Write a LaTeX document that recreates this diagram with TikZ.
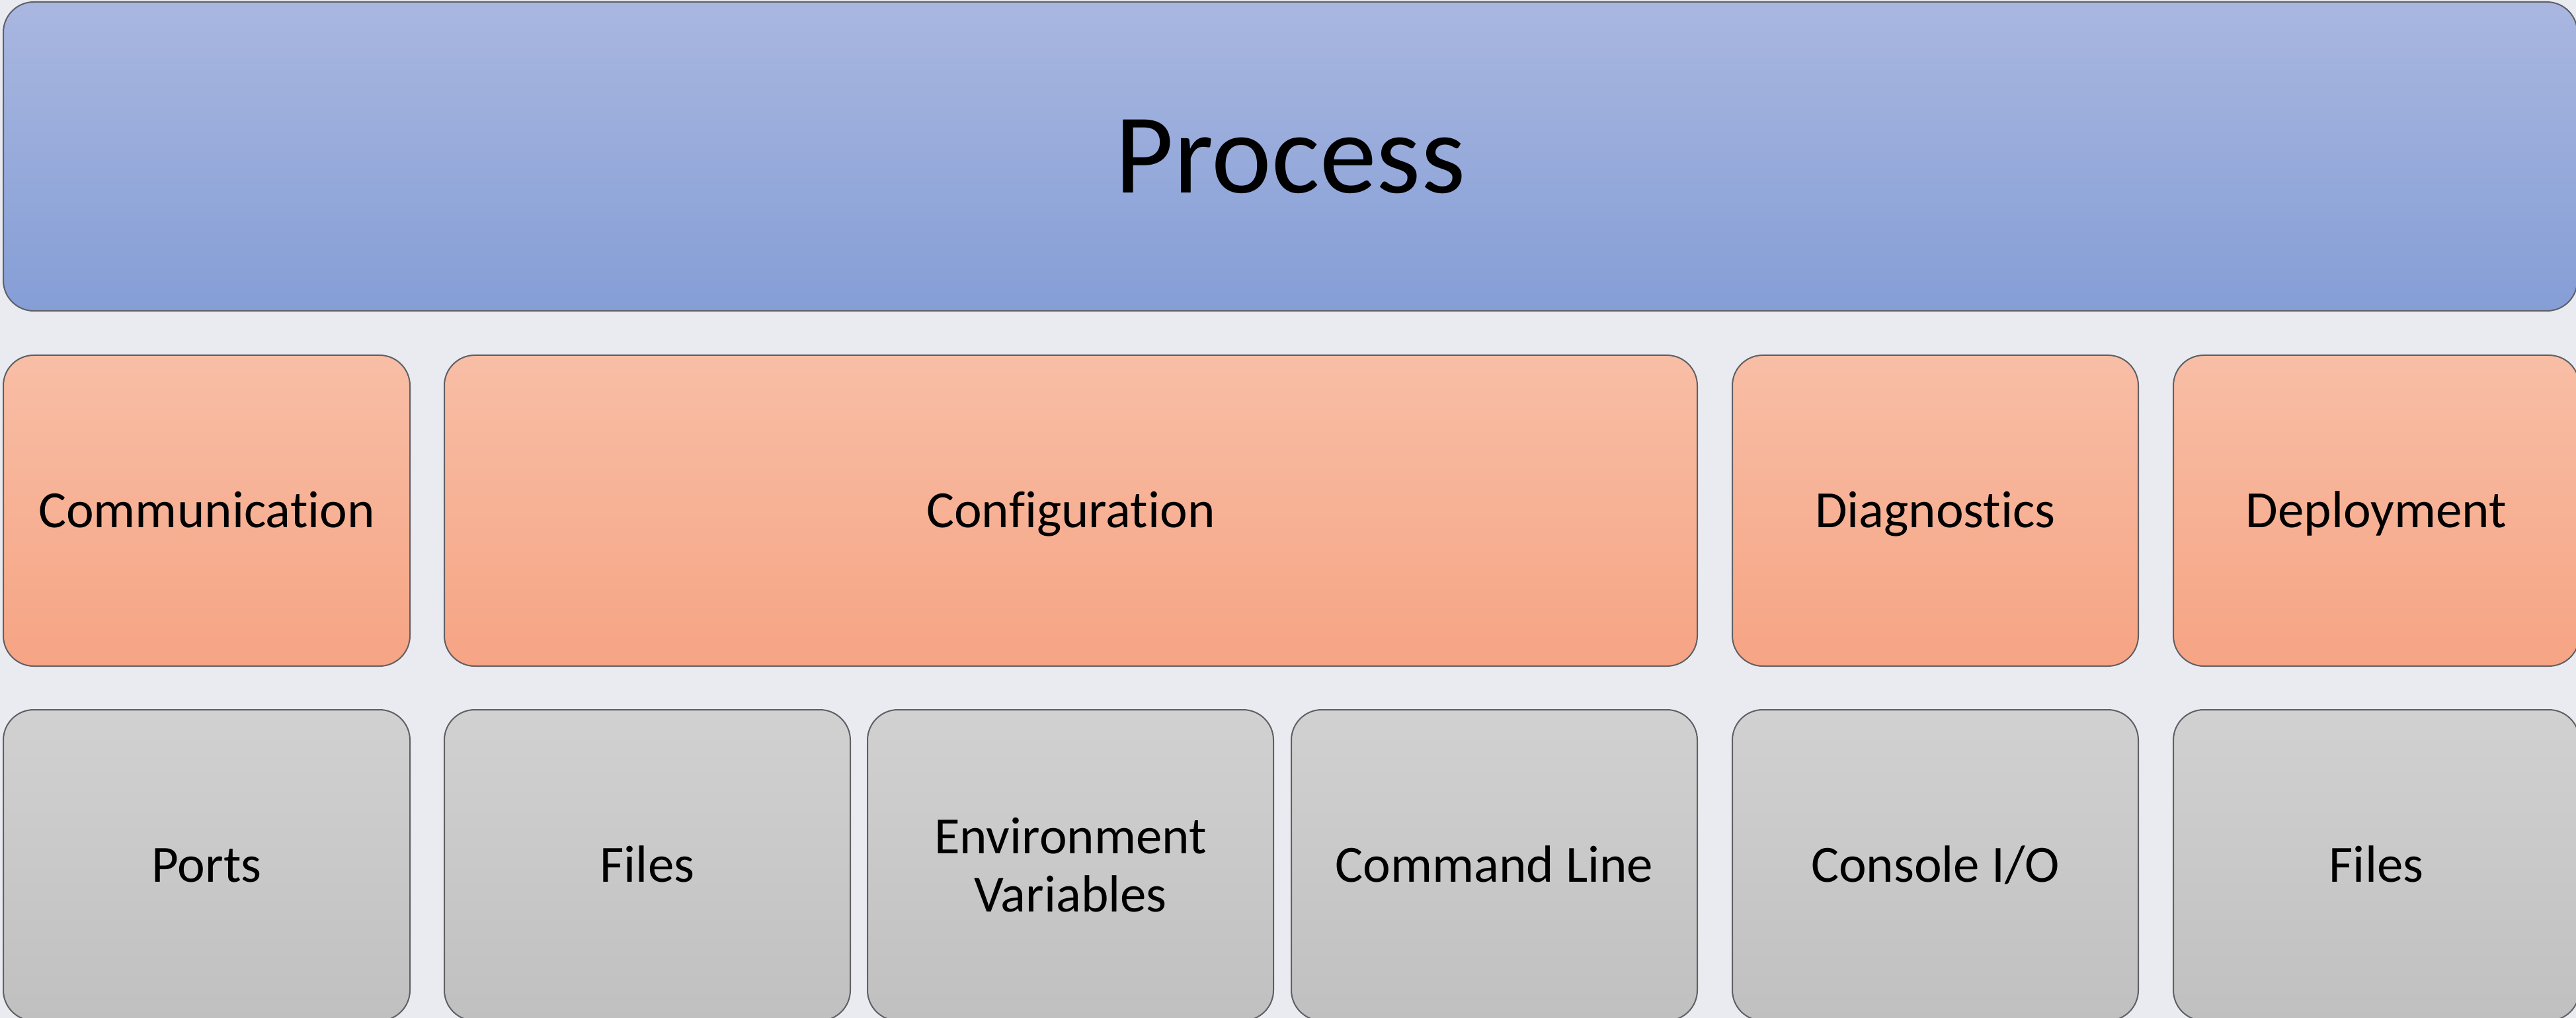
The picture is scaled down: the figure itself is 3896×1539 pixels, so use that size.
\documentclass[tikz,border=0pt]{standalone}
\usepackage{fontspec}
\setmainfont[RawFeature={-liga}]{Carlito}
\begin{document}
\begin{tikzpicture}[x=0.25pt,y=-0.25pt,
  box/.style={draw=boxline, line width=0.5pt, rounded corners=11.5pt,
    inner sep=0pt, outer sep=0pt, align=center, text=black,
    font=\fontsize{19.75}{22}\selectfont,
    text height=12.7pt, text depth=0pt},
  twolines/.style={text height=, text depth=},
  topbox/.style={box, top color=procTop, bottom color=procBot,
    font=\fontsize{43}{48}\selectfont, text height=27.7pt},
  areabox/.style={box, top color=areaTop, bottom color=areaBot,
    minimum height=470*0.25pt},
  itembox/.style={box, top color=itemTop, bottom color=itemBot,
    minimum height=470*0.25pt, minimum width=614*0.25pt}]
  \definecolor{bg}{RGB}{233,235,240}
  \definecolor{boxline}{RGB}{95,95,100}
  \definecolor{procTop}{RGB}{169,183,224}
  \definecolor{procBot}{RGB}{133,158,214}
  \definecolor{areaTop}{RGB}{248,190,166}
  \definecolor{areaBot}{RGB}{246,164,132}
  \definecolor{itemTop}{RGB}{209,209,209}
  \definecolor{itemBot}{RGB}{192,192,192}

  \useasboundingbox (0,0) rectangle (3896,1539);
  \clip (0,0) rectangle (3896,1539);
  \fill[bg] (0,0) rectangle (3896,1539);

  % process
  \node[topbox, minimum width=3893*0.25pt, minimum height=467*0.25pt]
    (process) at (1951.5,236.5) {Process};

  % concern areas
  \node[areabox, minimum width=615*0.25pt]  (comm)   at (312.5,772)  {Communication};
  \node[areabox, minimum width=1895*0.25pt] (config) at (1619.5,772) {Configuration};
  \node[areabox, minimum width=614*0.25pt]  (diag)   at (2927,772)   {Diagnostics};
  \node[areabox, minimum width=614*0.25pt]  (deploy) at (3594,772)   {Deployment};

  % mechanisms
  \node[itembox, minimum width=615*0.25pt] (ports)   at (312.5,1308) {Ports};
  \node[itembox] (cfiles)  at (979,1308)  {Files};
  \node[itembox, twolines] (envvars) at (1619,1308) {Environment\\Variables};
  \node[itembox] (cmdline) at (2260,1308) {Command Line};
  \node[itembox] (console) at (2927,1308) {Console I/O};
  \node[itembox] (dfiles)  at (3594,1308) {Files};
\end{tikzpicture}
\end{document}
